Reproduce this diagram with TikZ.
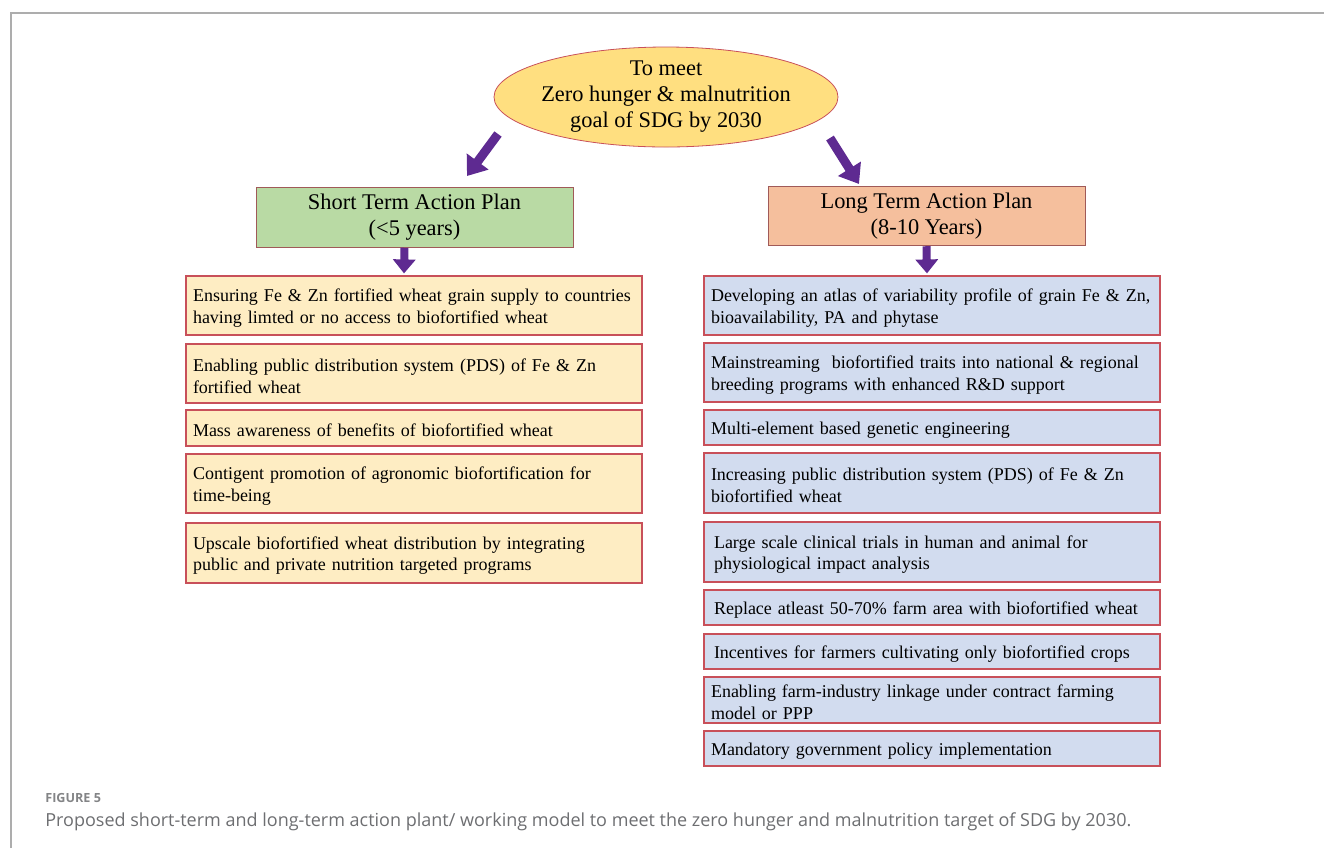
\documentclass[tikz,border=0pt]{standalone}
\usepackage{fontspec}
\setmainfont{Liberation Serif}
\newfontfamily\capfont{Open Sans}
\usetikzlibrary{shapes.geometric,arrows.meta}

\definecolor{goalfill}{HTML}{FFDF80}
\definecolor{shortfill}{HTML}{B9DAA4}
\definecolor{longfill}{HTML}{F5BF9D}
\definecolor{leftfill}{HTML}{FEEDC3}
\definecolor{rightfill}{HTML}{D2DCEF}
\definecolor{boxline}{HTML}{C8505A}
\definecolor{headline}{HTML}{A05A58}
\definecolor{planpurple}{HTML}{5E2A91}
\definecolor{framegray}{HTML}{ADADAD}
\definecolor{capgray}{HTML}{6D6E71}

\begin{document}
\begin{tikzpicture}[x=0.5pt,y=-0.5pt]

		% Estilos
		\tikzset{
			goal/.style={
				ellipse,
				draw=boxline,
				fill=goalfill,
				minimum width=172pt,
				minimum height=50pt
			},
			plan/.style={
				draw=headline,
				minimum width=158.5pt,
				minimum height=29.5pt,
				align=center,
				font=\fontsize{11.2pt}{13pt}\selectfont
			},
			task/.style={
				draw=boxline,
				line width=0.6pt,
				text width=221pt,
				inner xsep=3.5pt,
				inner ysep=0pt,
				minimum height=29.5pt,
				align=left,
				execute at begin node=\rule{0pt}{8.8pt},
				font=\fontsize{9pt}{10.8pt}\selectfont
			},
			shorttask/.style={task,fill=leftfill},
			longtask/.style={task,fill=rightfill},
			bigarrow/.style={
				draw=planpurple,
				line width=4.5pt,
				-{Triangle[width=13pt,length=9pt]}
			},
			downarrow/.style={
				draw=planpurple,
				line width=4pt,
				-{Triangle[width=11pt,length=7pt]}
			}
		}

		\useasboundingbox (0,0) rectangle (1324,848);

		% Marco
		\draw[framegray,line width=1pt] (11,848) -- (11,13) -- (1324,13);

		% Objetivo
		\node[goal] (G) at (666,97) {};
		\node[align=center,font=\fontsize{11.2pt}{13pt}\selectfont] (Gt) at (G)
			{To meet\\Zero hunger \& malnutrition\\goal of SDG by 2030};

		% Planes
		\node[plan,fill=shortfill] (S) at (414.5,217.5) {Short Term Action Plan\\(<5 years)};
		\node[plan,fill=longfill] (L) at (926.5,216) {Long Term Action Plan\\(8-10 Years)};

		% Acciones a corto plazo
		\node[shorttask] (S1) at (414,305.5)
			{Ensuring Fe \& Zn fortified wheat grain supply to countries\\having limted or no access to biofortified wheat};
		\node[shorttask] (S2) at (414,373.5)
			{Enabling public distribution system (PDS) of Fe \& Zn\\fortified wheat};
		\node[shorttask,minimum height=18pt] (S3) at (414,428)
			{Mass awareness of benefits of biofortified wheat};
		\node[shorttask] (S4) at (414,483.5)
			{Contigent promotion of agronomic biofortification for\\time-being};
		\node[shorttask,minimum height=30pt] (S5) at (414,553)
			{Upscale biofortified wheat distribution by integrating\\public and private nutrition targeted programs};

		% Acciones a largo plazo
		\node[longtask] (L1) at (932,305.5)
			{Developing an atlas of variability profile of grain Fe \& Zn,\\bioavailability, PA and phytase};
		\node[longtask] (L2) at (932,372.5)
			{Mainstreaming\ \ biofortified traits into national \& regional\\breeding programs with enhanced R\&D support};
		\node[longtask,minimum height=17.5pt] (L3) at (932,427.5)
			{Multi-element based genetic engineering};
		\node[longtask,minimum height=30pt] (L4) at (932,483)
			{Increasing public distribution system (PDS) of Fe \& Zn\\biofortified wheat};
		\node[longtask,minimum height=30pt] (L5) at (932,552)
			{\hspace{1.5pt}Large scale clinical trials in human and animal for\\\hspace{1.5pt}physiological impact analysis};
		\node[longtask,minimum height=17.5pt] (L6) at (932,607.5)
			{\hspace{1.5pt}Replace atleast 50-70\% farm area with biofortified wheat};
		\node[longtask,minimum height=17.5pt] (L7) at (932,651.5)
			{\hspace{1.5pt}Incentives for farmers cultivating only biofortified crops};
		\node[longtask,minimum height=23pt] (L8) at (932,700)
			{Enabling farm-industry linkage under contract farming\\model or PPP};
		\node[longtask,minimum height=17.5pt] (L9) at (932,748.5)
			{Mandatory government policy implementation};

		% Flechas
		\coordinate (ga) at (498,134);
		\coordinate (sa) at (467,176);
		\coordinate (gb) at (830,138);
		\coordinate (lb) at (859,184);
		\draw[bigarrow] (ga) -- (sa);
		\draw[bigarrow] (gb) -- (lb);
		\draw[downarrow] ([xshift=-5pt]S.south) -- ([xshift=-5pt,yshift=1pt]S1.north);
		\draw[downarrow] (L.south) -- ([xshift=-2.5pt,yshift=1pt]L1.north);

		% Leyenda
		\node[anchor=base west,inner sep=0pt,text=capgray!85,
			font=\capfont\bfseries\fontsize{6.3pt}{8pt}\selectfont] (F) at (45,802) {FIGURE 5};
		\node[anchor=base west,inner sep=0pt,text=capgray,
			font=\capfont\fontsize{9pt}{11pt}\selectfont] (C) at (45,826)
			{Proposed short-term and long-term action plant/ working model to meet the zero hunger and malnutrition target of SDG by 2030.};

	\end{tikzpicture}
\end{document}
